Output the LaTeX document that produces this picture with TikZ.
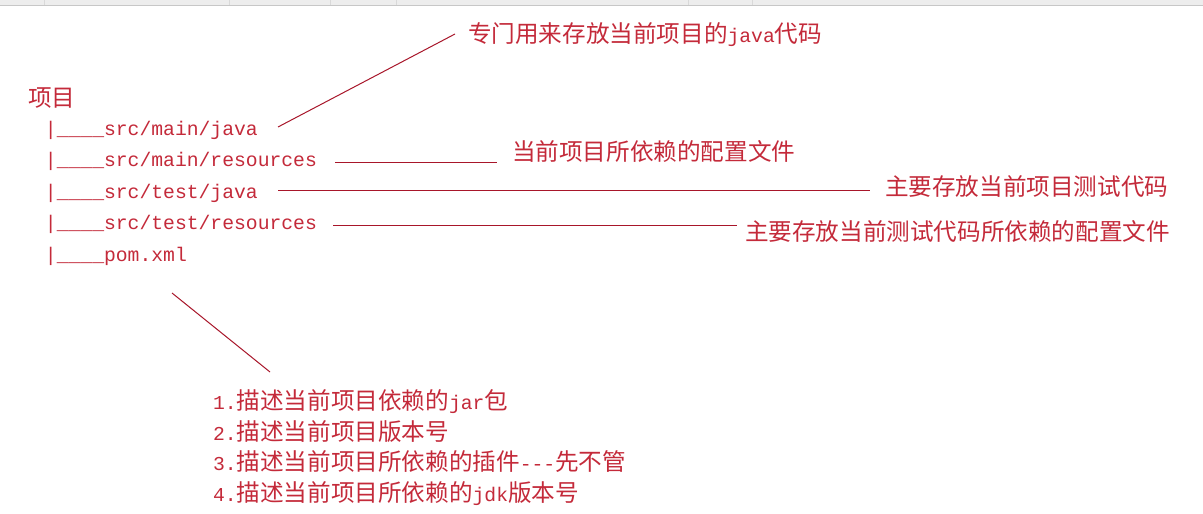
\documentclass[tikz,border=0pt]{standalone}
\usepackage{fontspec}
\setmainfont[Ligatures={NoCommon}]{Liberation Mono}
\newfontfamily\cjk{Noto Sans CJK SC}
\definecolor{txt}{HTML}{C42A3A}
\definecolor{ln}{HTML}{A8162A}
\newcommand\zh[1]{{\fontsize{23.6}{24}\cjk #1}}
\begin{document}
\begin{tikzpicture}[x=1pt,y=-1pt,
  tx/.style={anchor=base west, inner sep=0pt, outer sep=0pt, text=txt, font=\fontsize{19.7}{20}\selectfont},
  conn/.style={draw=ln, line width=1pt}]
\useasboundingbox (0,0) rectangle (1203,514);
\fill[white] (0,0) rectangle (1203,514);
\fill[black!7] (0,0) rectangle (1203,5);
\draw[black!22, line width=1pt] (0,5.5) -- (1203,5.5);
\foreach \sx in {44,229,330,396,688,752} \draw[black!15] (\sx,0) -- (\sx,5);
% tree
\node[tx] (root) at (28,106) {\zh{项目}};
\node[tx] (r1) at (45,135) {|\_\_\_\_src/main/java};
\node[tx] (r2) at (45,166.5) {|\_\_\_\_src/main/resources};
\node[tx] (r3) at (45,198) {|\_\_\_\_src/test/java};
\node[tx] (r4) at (45,229.5) {|\_\_\_\_src/test/resources};
\node[tx] (r5) at (45,261) {|\_\_\_\_pom.xml};
% labels
\node[tx] (l1) at (468,42) {\zh{专门用来存放当前项目的}java\zh{代码}};
\node[tx] (l2) at (512,160) {\zh{当前项目所依赖的配置文件}};
\node[tx] (l3) at (885,195) {\zh{主要存放当前项目测试代码}};
\node[tx] (l4) at (745,240) {\zh{主要存放当前测试代码所依赖的配置文件}};
\node[tx] (p1) at (213,409) {1.\zh{描述当前项目依赖的}jar\zh{包}};
\node[tx] (p2) at (213,440) {2.\zh{描述当前项目版本号}};
\node[tx] (p3) at (213,470) {3.\zh{描述当前项目所依赖的插件}-{}-{}-\zh{先不管}};
\node[tx] (p4) at (213,501) {4.\zh{描述当前项目所依赖的}jdk\zh{版本号}};
% connector ends
\coordinate (a1) at (278,127);
\coordinate (b1) at (455,34);
\coordinate (a2) at (335,162);
\coordinate (b2) at (497,162);
\coordinate (a3) at (278,190);
\coordinate (b3) at (870,190);
\coordinate (a4) at (333,225);
\coordinate (b4) at (737,225);
\coordinate (a5) at (172,293);
\coordinate (b5) at (270,372);
\draw[conn] (a1) -- (b1);
\draw[conn] (a2) -- (b2);
\draw[conn] (a3) -- (b3);
\draw[conn] (a4) -- (b4);
\draw[conn] (a5) -- (b5);
\end{tikzpicture}
\end{document}
